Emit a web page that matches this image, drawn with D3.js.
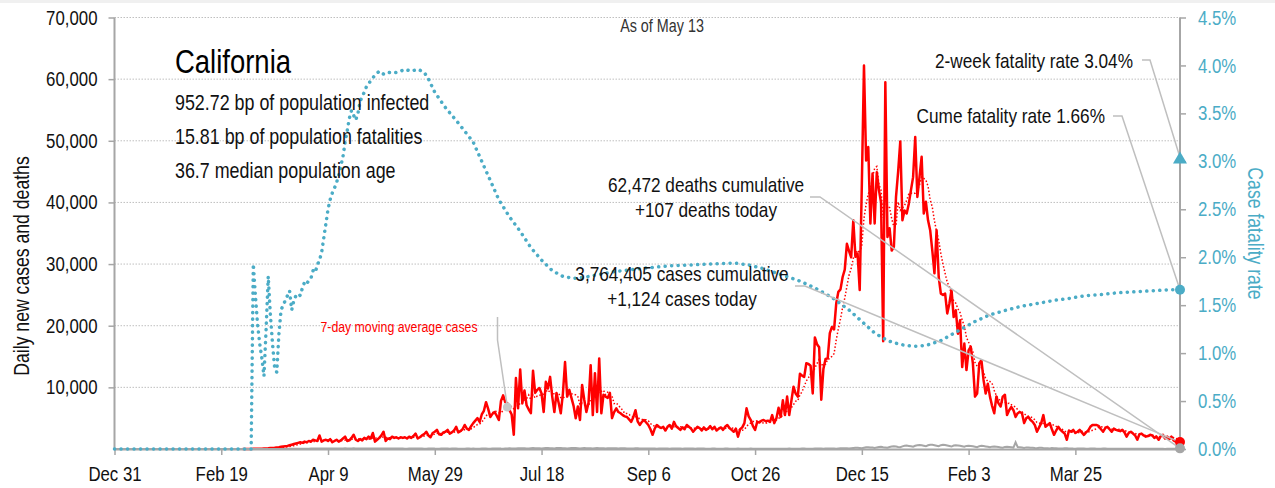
<!DOCTYPE html>
<html>
<head>
<meta charset="utf-8">
<script src="https://cdn.jsdelivr.net/npm/d3@7"></script>
<style>
  body { margin: 0; background: #fff; }
  svg text { font-family: "Liberation Sans", Arial, sans-serif; }
</style>
</head>
<body>
<div id="chart"></div>
<script>
// daily series, one value per day starting at startDate
var startDate = "2019-12-31";
var endDate = "2021-05-13";

var xTickDates = ["2019-12-31", "2020-02-19", "2020-04-09", "2020-05-29", "2020-07-18",
                  "2020-09-06", "2020-10-26", "2020-12-15", "2021-02-03", "2021-03-25"];
var leftTicks = [0, 10000, 20000, 30000, 40000, 50000, 60000, 70000];
var rightTicks = [0, 0.5, 1, 1.5, 2, 2.5, 3, 3.5, 4, 4.5];

var cases = [
  0,0,0,0,0,0,0,0,0,0, 0,0,0,0,0,0,0,0,0,0, 0,0,0,0,0,0,0,0,0,0,
  0,0,0,0,0,0,0,0,0,0, 0,0,0,0,0,0,0,0,0,0, 0,0,0,0,0,0,0,0,0,0,
  2,5,10,15,20,25,30,40,50,60,
  80,100,120,150,180,200,260,300,350,400,
  450,500,600,700,800,900,1000,1100,1000,1200,
  1100,1300,1200,1500,1400,1300,2200,1200,1400,1500,
  1300,1600,1100,1300,1500,1200,1400,1700,2000,1300,
  1400,1800,2300,1500,1300,1600,1400,1800,1600,2000,
  1700,2600,1200,1500,1800,2200,2800,1300,1700,1600,
  2000,1800,1900,1700,1900,1800,1900,1700,2000,1800,
  2100,2500,1700,1900,2200,2400,2800,2200,1900,2600,
  2800,3100,2400,2300,2700,2800,3100,2500,2700,3000,
  3600,2700,2900,3200,3900,3300,3100,3700,4200,4600,
  5000,4400,5600,6200,7600,6500,5200,5700,6000,5400,
  4700,7800,8700,7600,7400,6300,5600,2300,11500,6600,
  12900,7400,9500,7100,6400,5800,12700,9100,9600,9900,
  9000,6000,10900,9800,11700,8500,6000,9100,7500,5800,
  9000,14100,8500,9600,8300,7000,5000,6900,4700,10400,
  8000,6000,7500,13600,5500,12300,6000,14700,5800,8800,
  8500,8300,9100,5000,6000,6600,6000,5800,5500,5300,
  5200,4800,4400,5200,6300,4500,3900,4400,4700,4300,
  3900,3200,2300,3300,3900,3600,3400,3600,3000,3600,
  3900,3300,4400,3700,3400,3100,3500,3200,3900,3600,
  3300,2800,3200,3600,3400,3000,3500,3100,3300,3700,
  3200,3600,3000,3300,3500,3100,3600,3900,3400,3100,
  2800,3300,2000,3200,3500,4200,6600,5300,4700,3700,
  3100,4400,4300,4600,4700,4500,4600,4400,5500,4200,
  5000,6700,5200,7900,5500,8500,5500,7800,10100,9000,
  8500,12200,11900,11700,13900,13800,13500,9000,18100,17000,
  16500,8000,13000,14600,14700,18800,19800,19400,23600,25500,
  25900,27900,29100,33300,32100,31100,37100,31200,31700,25800,
  43000,62200,46800,49000,36600,44700,36600,44900,42000,40000,
  17500,59500,34400,35800,32200,32800,40900,45000,49900,37100,
  38700,38200,39800,42000,44100,50600,40900,44100,47400,38200,
  40100,37100,35500,32200,28500,35500,27900,25200,25000,25200,
  22000,23600,25800,21400,22500,18700,20900,13300,17100,12800,
  16000,16600,13900,8500,9000,13900,14400,11200,9000,10600,
  8500,7000,5800,8500,7400,6900,8500,8800,5500,6300,
  6800,6300,5200,5800,6000,5800,4200,5000,5200,4700,
  4400,3900,2800,3500,4200,5500,3600,3900,4200,3200,
  2300,3000,3600,3100,2800,2500,1500,3000,2800,3100,
  2600,2800,3100,2700,2300,2700,3000,3600,3900,3900,
  3900,3700,3200,2800,3400,3600,3200,2800,3300,3100,
  3000,2900,3100,2700,2000,2600,2800,2500,2200,1500,
  2400,2500,2200,2000,2100,2300,2200,1800,2000,1500,
  2100,2300,1700,2000,1600,2000,1400,1200,1300,1124
];

var deaths = [
  0,0,0,0,0,0,0,0,0,0, 0,0,0,0,0,0,0,0,0,0, 0,0,0,0,0,0,0,0,0,0,
  0,0,0,0,0,0,0,0,0,0, 0,0,0,0,0,0,0,0,0,0, 0,0,0,0,0,0,0,0,0,0,
  0,0,0,0,1,0,1,1,2,1,
  3,2,4,5,4,7,9,12,14,20,
  18,24,27,30,26,35,40,46,52,48,
  60,55,68,70,66,84,72,80,90,78,
  95,88,80,100,92,76,85,98,104,90,
  86,94,110,96,88,80,92,85,90,78,
  72,88,95,80,70,76,68,84,90,72,
  70,64,82,76,68,74,60,58,78,80,
  70,66,62,74,70,58,54,80,72,76,
  64,60,58,76,70,62,64,50,72,68,
  62,58,60,55,48,66,70,58,62,55,
  52,48,62,70,66,58,46,70,80,92,
  84,68,60,90,100,110,98,86,72,110,
  120,130,118,100,84,130,150,140,128,110,
  96,140,160,150,138,120,95,150,170,160,
  140,130,100,140,150,166,148,124,96,140,
  152,140,130,120,90,130,150,142,130,110,
  88,120,140,130,120,104,80,110,126,118,
  100,92,70,96,110,102,90,80,64,90,
  100,92,84,76,60,86,96,88,80,74,
  58,80,90,84,76,70,54,72,84,80,
  70,62,50,68,76,70,64,58,46,60,
  72,66,60,54,44,58,68,62,58,52,
  40,54,64,58,52,48,38,50,62,58,
  52,46,36,48,60,56,50,44,34,46,
  58,54,48,44,32,48,62,58,52,46,
  36,52,68,64,56,50,40,60,80,76,
  70,62,48,74,96,90,84,76,60,90,
  120,130,116,104,82,130,180,220,200,170,
  130,210,280,300,260,230,180,260,330,360,
  300,250,200,320,400,450,410,340,280,420,
  520,560,500,440,360,520,620,660,600,520,
  440,600,700,680,620,540,460,620,680,640,
  560,480,400,560,620,580,520,440,360,500,
  540,500,440,380,300,460,520,480,420,360,
  280,380,420,380,320,260,200,340,380,340,
  300,240,1080,300,280,240,180,260,240,220,
  190,150,120,200,190,160,140,120,90,150,
  140,120,100,80,70,120,110,100,90,70,
  60,100,90,80,70,60,50,80,76,70,
  60,52,44,70,64,60,52,44,36,60,
  56,50,44,38,30,52,48,44,40,34,
  28,50,46,40,36,30,24,44,40,36,
  30,26,20,40,36,32,28,22,30,107
];

// case fatality rate (%), read at these day offsets from startDate
var cfrDay = [0,64,65,66,67,68,69,70,71,72,73,74,75,76,77,78,79,80,81,82,83,84,85,86,87,88,89,90,
  91,92,93,94,95,96,97,98,99,100,101,102,103,104,105,106,107,108,109,110,111,112,113,114,115,116,
  117,118,119,120,122,124,126,128,130,133,136,139,142,145,147,150,155,161,168,172,176,180,185,190,
  195,200,205,210,215,220,227,234,242,250,260,270,280,290,297,304,312,320,328,336,344,351,356,362,
  368,374,380,387,395,403,410,418,425,433,440,447,455,462,470,478,486,493,499];
var cfrRate = [0,0,1.93,1.6,1.3,1.1,0.95,0.76,1.25,1.8,1.4,1.1,0.85,0.8,1.2,1.45,1.5,1.55,1.6,1.65,
  1.45,1.55,1.6,1.62,1.6,1.68,1.74,1.72,1.76,1.78,1.86,1.84,1.92,1.97,2.05,2.2,2.35,2.5,2.6,2.67,
  2.72,2.78,2.85,2.95,3.05,3.2,3.32,3.45,3.53,3.48,3.43,3.5,3.62,3.68,3.72,3.78,3.81,3.84,3.9,3.94,
  3.91,3.93,3.92,3.93,3.96,3.94,3.96,3.93,3.86,3.72,3.56,3.4,3.2,3.0,2.8,2.6,2.42,2.27,2.1,1.97,
  1.86,1.8,1.78,1.79,1.82,1.85,1.87,1.89,1.91,1.92,1.93,1.94,1.92,1.88,1.82,1.76,1.68,1.58,1.45,
  1.31,1.21,1.13,1.09,1.07,1.08,1.13,1.23,1.33,1.4,1.45,1.49,1.52,1.55,1.57,1.6,1.61,1.63,1.64,
  1.65,1.66,1.66];
var twoWeekRate = 3.04;

var stateName = "California";
var infoLines = ["952.72 bp of population infected", "15.81 bp of population fatalities", "36.7 median population age"];
var asOfLabel = "As of May 13";
var highlightDay = 184; // point on the moving average picked out by the label

var width = 1275;
var height = 488;
var marginTop = 17.5;
var marginRight = 95;
var marginBottom = 39;
var marginLeft = 114.5;
var squeeze = 0.82; // no narrow face installed, so text is squeezed sideways

var red = "#ff0000";
var teal = "#4bacc6";
var grey = "#a6a6a6";
var leaderGrey = "#bfbfbf";

var parseDate = d3.timeParse("%Y-%m-%d");
var start = parseDate(startDate);
function dayToDate(i) { return d3.timeDay.offset(start, i); }

function addText(parent, str, x, y, {size = 20.5, anchor = "start", fill = "#111", rotate = 0, dy = null} = {}) {
    return parent.append("text")
        .attr("transform", `translate(${x},${y})` + (rotate ? ` rotate(${rotate})` : "") + ` scale(${squeeze},1)`)
        .attr("dy", dy)
        .attr("text-anchor", anchor)
        .attr("font-size", size)
        .attr("fill", fill)
        .text(str);
}

function drawChart() {
    var x = d3.scaleTime([start, parseDate(endDate)], [marginLeft, width - marginRight]);
    var yLeft = d3.scaleLinear([0, 70000], [height - marginBottom, marginTop]);
    var yRight = d3.scaleLinear([0, 4.5], [height - marginBottom, marginTop]);

    var caseData = cases.map((v, i) => ({date: dayToDate(i), value: v}));
    // trailing 7-day mean of the daily cases
    var avgData = cases.map((v, i) => ({date: dayToDate(i), value: d3.mean(cases.slice(Math.max(0, i - 6), i + 1))}));
    var deathData = deaths.map((v, i) => ({date: dayToDate(i), value: v}));
    var cfrData = cfrDay.map((d, i) => ({date: dayToDate(d), value: cfrRate[i]}));

    var svg = d3.select("#chart")
        .append("svg")
        .attr("width", width)
        .attr("height", height)
        .attr("viewBox", [0, 0, width, height]);

    svg.append("rect")
        .attr("width", width).attr("height", 3)
        .attr("fill", "#f0f0f0");

    // dotted gridlines
    svg.append("g")
        .selectAll("line")
        .data(leftTicks.filter(d => d > 0))
        .join("line")
            .attr("x1", marginLeft)
            .attr("x2", width - marginRight)
            .attr("y1", d => yLeft(d))
            .attr("y2", d => yLeft(d))
            .attr("stroke", leaderGrey)
            .attr("stroke-width", 1)
            .attr("stroke-dasharray", "1.5,1.5");

    var leftAxis = svg.append("g")
        .attr("transform", `translate(${marginLeft},0)`)
        .call(d3.axisLeft(yLeft).tickValues(leftTicks.filter(d => d > 0)).tickFormat(d3.format(","))
            .tickSize(6).tickSizeOuter(0).tickPadding(11));
    var rightAxis = svg.append("g")
        .attr("transform", `translate(${width - marginRight},0)`)
        .call(d3.axisRight(yRight).tickValues(rightTicks).tickFormat(d => d.toFixed(1) + "%")
            .tickSize(6).tickSizeOuter(0).tickPadding(12));

    // case line sits under the x axis; the leading zeros are left out
    svg.append("path")
        .datum(caseData)
        .attr("fill", "none")
        .attr("stroke", red)
        .attr("stroke-width", 2.5)
        .attr("stroke-linejoin", "round")
        .attr("d", d3.line().defined(d => d.value > 0).x(d => x(d.date)).y(d => yLeft(d.value)));

    var bottomAxis = svg.append("g")
        .attr("transform", `translate(0,${height - marginBottom})`)
        .call(d3.axisBottom(x).tickValues(xTickDates.map(parseDate)).tickFormat(d3.timeFormat("%b %-d"))
            .tickSize(6).tickSizeOuter(0).tickPadding(11));

    [leftAxis, rightAxis, bottomAxis].forEach(g => {
        g.attr("font-family", null);
        g.select(".domain").attr("stroke", grey).attr("stroke-width", 2);
        g.selectAll(".tick line").attr("stroke", grey).attr("stroke-width", 1.5);
        g.selectAll(".tick text")
            .attr("font-size", 20.5)
            .attr("fill", "#111")
            .each(function() {
                var t = d3.select(this);
                t.attr("x", (+t.attr("x") || 0) / squeeze).attr("transform", `scale(${squeeze},1)`);
            });
    });
    leftAxis.select(".domain").attr("d", `M0,${height - marginBottom}V${marginTop}`);
    rightAxis.select(".domain").attr("d", `M0,${height - marginBottom}V${marginTop}`);
    rightAxis.selectAll(".tick text").attr("fill", teal);

    svg.append("path")
        .datum(avgData)
        .attr("fill", "none")
        .attr("stroke", red)
        .attr("stroke-width", 1.5)
        .attr("stroke-dasharray", "1.5,2")
        .attr("d", d3.line().x(d => x(d.date)).y(d => yLeft(d.value)));

    svg.append("path")
        .datum(deathData)
        .attr("fill", "none")
        .attr("stroke", grey)
        .attr("stroke-width", 2)
        .attr("d", d3.line().x(d => x(d.date)).y(d => yLeft(d.value)));

    svg.append("path")
        .datum(cfrData)
        .attr("fill", "none")
        .attr("stroke", teal)
        .attr("stroke-width", 3.5)
        .attr("stroke-linecap", "round")
        .attr("stroke-dasharray", "0.1,6.4")
        .attr("d", d3.line().x(d => x(d.date)).y(d => yRight(d.value)));

    // end markers
    var lastCase = caseData[caseData.length - 1];
    var lastDeath = deathData[deathData.length - 1];
    var lastCfr = cfrData[cfrData.length - 1];
    var xEnd = x(lastCase.date);
    var ends = {
        cases: [xEnd, yLeft(lastCase.value)],
        deaths: [xEnd, yLeft(lastDeath.value)],
        cfr: [xEnd, yRight(lastCfr.value)],
        twoWeek: [xEnd, yRight(twoWeekRate)]
    };

    // annotation leaders
    var notes = [
        {lines: ["2-week fatality rate 3.04%"], x: 1133, y: 61, anchor: "end", pts: [[1142, 60], [1150, 60], ends.twoWeek]},
        {lines: ["Cume fatality rate 1.66%"], x: 1105, y: 116, anchor: "end", pts: [[1113, 116], [1122, 116], ends.cfr]},
        {lines: ["62,472 deaths cumulative", "+107 deaths today"], x: 706, y: 185, anchor: "middle", pts: [[810, 197], [820, 197], ends.deaths]},
        {lines: ["3,764,405 cases cumulative", "+1,124 cases today"], x: 682, y: 274, anchor: "middle", pts: [[795, 286], [805, 286], ends.cases]}
    ];

    var hl = avgData[highlightDay];
    var hlPt = [x(hl.date), yLeft(hl.value)];

    svg.append("g")
        .selectAll("path")
        .data(notes.map(n => n.pts).concat([[[497.5, 317], [497.5, 340], hlPt]]))
        .join("path")
            .attr("fill", "none")
            .attr("stroke", leaderGrey)
            .attr("stroke-width", 1.5)
            .attr("d", d3.line());

    svg.append("circle").attr("cx", hlPt[0]).attr("cy", hlPt[1]).attr("r", 4.5).attr("fill", "#c8c8c8");

    svg.append("circle").attr("cx", ends.cases[0]).attr("cy", ends.cases[1]).attr("r", 5).attr("fill", red);
    svg.append("circle").attr("cx", ends.deaths[0]).attr("cy", ends.deaths[1]).attr("r", 5).attr("fill", grey);
    svg.append("circle").attr("cx", ends.cfr[0]).attr("cy", ends.cfr[1]).attr("r", 5).attr("fill", teal);
    svg.append("path")
        .attr("transform", `translate(${ends.twoWeek[0]},${ends.twoWeek[1] + 2})`)
        .attr("d", d3.symbol(d3.symbolTriangle, 85)())
        .attr("fill", teal);

    notes.forEach(n => {
        n.lines.forEach((t, i) => {
            addText(svg, t, n.x, n.y + i * 25, {size: 21, anchor: n.anchor, dy: "0.35em"});
        });
    });

    addText(svg, "7-day moving average cases", 399, 327, {size: 15, anchor: "middle", fill: red, dy: "0.35em"});

    // state block
    addText(svg, stateName, 175, 73, {size: 33.5, fill: "#000"});
    infoLines.forEach((t, i) => addText(svg, t, 175, 109.5 + i * 34, {size: 21.8}));

    addText(svg, asOfLabel, 662, 26, {size: 17.5, anchor: "middle", fill: "#333", dy: "0.35em"});

    // axis titles
    addText(svg, "Daily new cases and deaths", 28.5, 266, {size: 21.5, anchor: "middle", rotate: -90});
    addText(svg, "Case fatality rate", 1248, 233.5, {size: 21.5, anchor: "middle", fill: teal, rotate: 90});

    return svg.node();
}

drawChart();
</script>
</body>
</html>
